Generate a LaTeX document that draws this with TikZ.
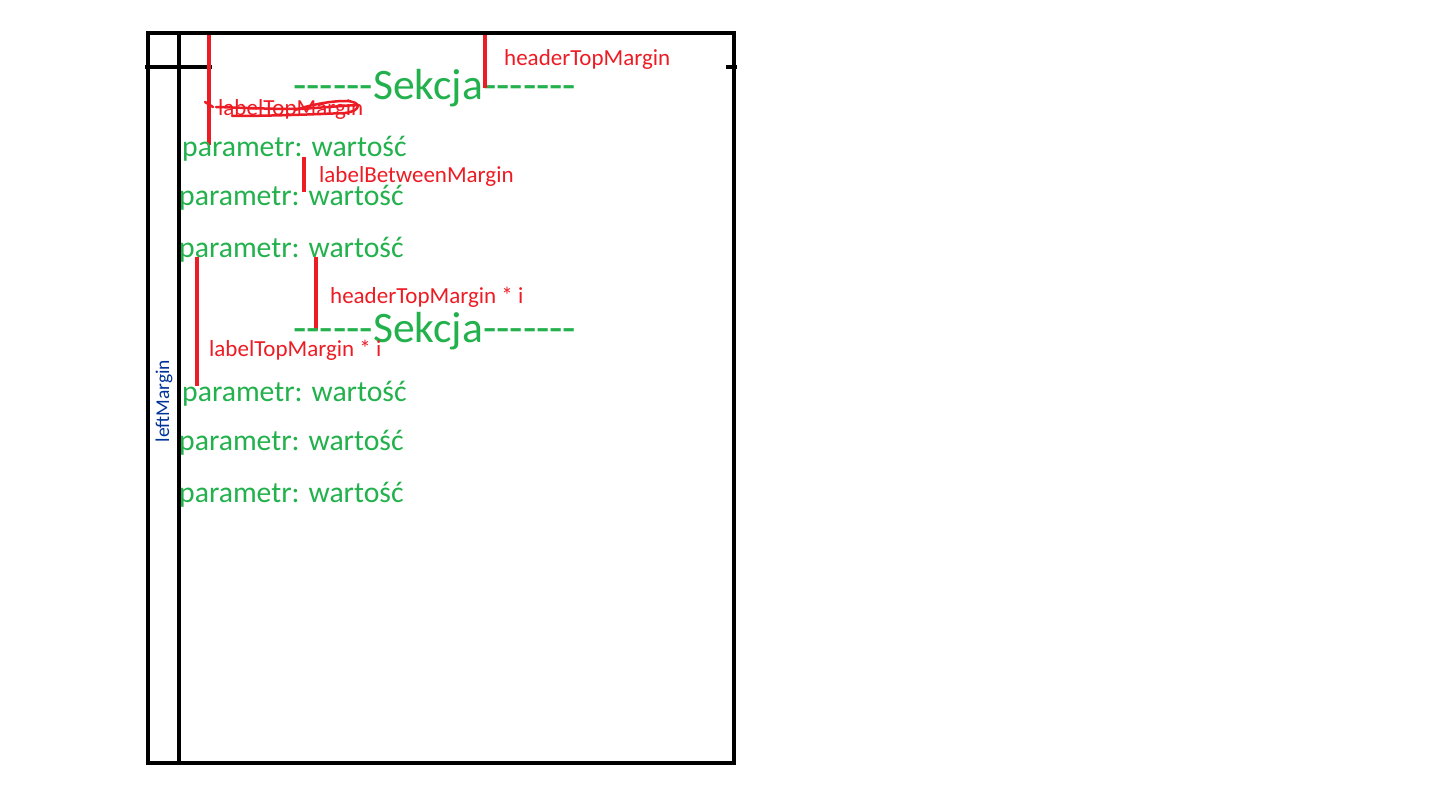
\documentclass[tikz,border=0pt]{standalone}
\usepackage{fontspec}
\setmainfont{Carlito}[Ligatures=TeXOff]
\definecolor{pgreen}{RGB}{34,177,76}
\definecolor{pred}{RGB}{237,28,36}
\definecolor{pblue}{RGB}{0,51,153}
\tikzset{
  frame/.style={line width=4pt, black},
  redbar/.style={line width=4pt, pred},
  param/.style={anchor=base west, inner sep=0pt, text=pgreen, font=\fontsize{29.7}{30}\selectfont},
  sekcja/.style={anchor=base west, inner sep=0pt, text=pgreen, font=\fontsize{43.5}{44}\selectfont},
  redlabel/.style={anchor=base west, inner sep=0pt, text=pred, font=\fontsize{23}{24}\selectfont},
  scribble/.style={line width=2.5pt, pred, line cap=round, line join=round}
}
\begin{document}
\begin{tikzpicture}[x=1pt,y=-1pt]
\useasboundingbox[fill=white] (0,0) rectangle (1452,802);
% frame
\coordinate (tl) at (148,33);
\coordinate (br) at (734,763);
\draw[frame] (tl) rectangle (br);
\coordinate (vt) at (179,33);
\coordinate (vb) at (179,763);
\draw[frame] (vt) -- (vb);
\coordinate (hl) at (145,67);
\coordinate (hr) at (212,67);
\draw[frame] (hl) -- (hr);
\coordinate (tl2) at (726,67);
\coordinate (tr2) at (737,67);
\draw[frame] (tl2) -- (tr2);
% left margin label
\node[rotate=90, inner sep=0pt, text=pblue, font=\fontsize{19.5}{20}\selectfont] (lm) at (164,401) {leftMargin};
% first section
\node[sekcja] (s1) at (293,100) {------Sekcja-------};
\coordinate (h1a) at (485,35);
\coordinate (h1b) at (485,88);
\draw[redbar] (h1a) -- (h1b);
\node[redlabel] (htm) at (504,66) {headerTopMargin};
\coordinate (l1a) at (209,35);
\coordinate (l1b) at (209,145);
\draw[redbar] (l1a) -- (l1b);
\node[redlabel] (ltm) at (218,116) {labelTopMargin};
\coordinate (c1) at (205,102);
\coordinate (c2) at (213,107);
\draw[scribble] (c1) -- (c2);
\coordinate (sa) at (216,107);
\coordinate (sb) at (300,109);
\coordinate (sc) at (357,105);
\draw[scribble] (sa) .. controls (250,108) and (270,109) .. (sb) -- (sc);
\coordinate (sd) at (232,116);
\coordinate (se) at (345,113);
\draw[scribble] (sd) .. controls (260,116) and (300,115) .. (se)
  .. controls (362,111) and (362,101) .. (345,101)
  .. controls (330,101) and (310,105) .. (295,110);
\node[param] (p1) at (182,157) {parametr: wartość};
\coordinate (b1a) at (304,157);
\coordinate (b1b) at (304,192);
\draw[redbar] (b1a) -- (b1b);
\node[redlabel] (lbm) at (319,183) {labelBetweenMargin};
\node[param] (p2) at (179,206) {parametr: wartość};
\node[param] (p3) at (179,258) {parametr: wartość};
% second section
\coordinate (h2a) at (316,257);
\coordinate (h2b) at (316,330);
\draw[redbar] (h2a) -- (h2b);
\node[redlabel] (htmi) at (330,304) {headerTopMargin * i};
\node[sekcja] (s2) at (293,343) {------Sekcja-------};
\coordinate (l2a) at (197,257);
\coordinate (l2b) at (197,386);
\draw[redbar] (l2a) -- (l2b);
\node[redlabel] (ltmi) at (209,357) {labelTopMargin * i};
\node[param] (p4) at (182,402) {parametr: wartość};
\node[param] (p5) at (179,450) {parametr: wartość};
\node[param] (p6) at (179,502) {parametr: wartość};
\end{tikzpicture}
\end{document}
